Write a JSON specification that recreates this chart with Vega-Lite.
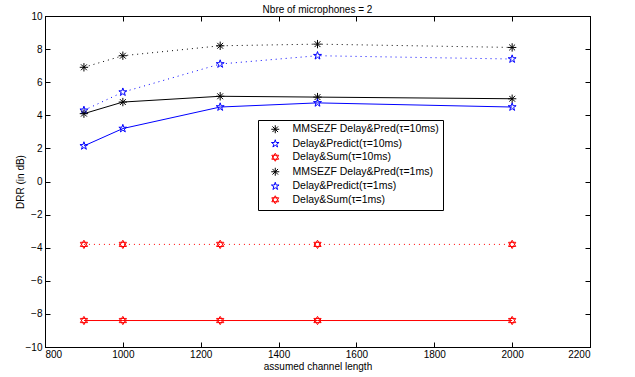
{
  "$schema": "https://vega.github.io/schema/vega-lite/v6.json",
  "autosize": {"type": "none"},
  "width": 545,
  "height": 331,
  "padding": {"left": 45, "top": 16, "right": 45, "bottom": 30},
  "title": {"text": "Nbre of microphones = 2", "fontSize": 10, "fontWeight": "normal", "font": "Liberation Sans", "offset": -4, "anchor": "middle"},
  "config": {
    "font": "Liberation Sans",
    "view": {"stroke": "#000", "strokeWidth": 1},
    "axis": {"grid": false, "domainColor": "#000", "tickColor": "#000", "labelColor": "#000", "titleColor": "#000", "labelFontSize": 10, "titleFontSize": 10, "titleFontWeight": "normal", "labelFont": "Liberation Sans", "titleFont": "Liberation Sans"},
    "legend": {"labelFont": "Liberation Sans", "labelFontSize": 10.5, "labelColor": "#000"}
  },
  "data": {"values": [
    {"series": "MMSEZF Delay&Pred(τ=10ms)", "L": 900, "DRR": 6.9},
    {"series": "MMSEZF Delay&Pred(τ=10ms)", "L": 1000, "DRR": 7.6},
    {"series": "MMSEZF Delay&Pred(τ=10ms)", "L": 1250, "DRR": 8.2},
    {"series": "MMSEZF Delay&Pred(τ=10ms)", "L": 1500, "DRR": 8.3},
    {"series": "MMSEZF Delay&Pred(τ=10ms)", "L": 2000, "DRR": 8.1},
    {"series": "Delay&Predict(τ=10ms)", "L": 900, "DRR": 4.3},
    {"series": "Delay&Predict(τ=10ms)", "L": 1000, "DRR": 5.4},
    {"series": "Delay&Predict(τ=10ms)", "L": 1250, "DRR": 7.1},
    {"series": "Delay&Predict(τ=10ms)", "L": 1500, "DRR": 7.6},
    {"series": "Delay&Predict(τ=10ms)", "L": 2000, "DRR": 7.4},
    {"series": "Delay&Sum(τ=10ms)", "L": 900, "DRR": -3.8},
    {"series": "Delay&Sum(τ=10ms)", "L": 1000, "DRR": -3.8},
    {"series": "Delay&Sum(τ=10ms)", "L": 1250, "DRR": -3.8},
    {"series": "Delay&Sum(τ=10ms)", "L": 1500, "DRR": -3.8},
    {"series": "Delay&Sum(τ=10ms)", "L": 2000, "DRR": -3.8},
    {"series": "MMSEZF Delay&Pred(τ=1ms)", "L": 900, "DRR": 4.1},
    {"series": "MMSEZF Delay&Pred(τ=1ms)", "L": 1000, "DRR": 4.8},
    {"series": "MMSEZF Delay&Pred(τ=1ms)", "L": 1250, "DRR": 5.15},
    {"series": "MMSEZF Delay&Pred(τ=1ms)", "L": 1500, "DRR": 5.1},
    {"series": "MMSEZF Delay&Pred(τ=1ms)", "L": 2000, "DRR": 5.0},
    {"series": "Delay&Predict(τ=1ms)", "L": 900, "DRR": 2.15},
    {"series": "Delay&Predict(τ=1ms)", "L": 1000, "DRR": 3.2},
    {"series": "Delay&Predict(τ=1ms)", "L": 1250, "DRR": 4.5},
    {"series": "Delay&Predict(τ=1ms)", "L": 1500, "DRR": 4.75},
    {"series": "Delay&Predict(τ=1ms)", "L": 2000, "DRR": 4.5},
    {"series": "Delay&Sum(τ=1ms)", "L": 900, "DRR": -8.4},
    {"series": "Delay&Sum(τ=1ms)", "L": 1000, "DRR": -8.4},
    {"series": "Delay&Sum(τ=1ms)", "L": 1250, "DRR": -8.4},
    {"series": "Delay&Sum(τ=1ms)", "L": 1500, "DRR": -8.4},
    {"series": "Delay&Sum(τ=1ms)", "L": 2000, "DRR": -8.4}
  ]},
  "resolve": {"axis": {"x": "independent", "y": "independent"}},
  "layer": [
    {
      "transform": [{"filter": "indexof(datum.series, '10ms') >= 0"}],
      "mark": {"type": "line", "strokeWidth": 1, "strokeDash": [1, 4], "clip": true},
      "encoding": {
        "x": {"field": "L", "type": "quantitative", "scale": {"domain": [800, 2200], "nice": false, "zero": false},
              "axis": {"title": "assumed channel length", "format": "d", "values": [800, 1000, 1200, 1400, 1600, 1800, 2000, 2200], "tickSize": -5, "labelPadding": 7, "titlePadding": 2, "domain": true}},
        "y": {"field": "DRR", "type": "quantitative", "scale": {"domain": [-10, 10], "nice": false, "zero": false},
              "axis": {"title": "DRR (in dB)", "values": [-10, -8, -6, -4, -2, 0, 2, 4, 6, 8, 10], "tickSize": -5, "labelPadding": 8, "titlePadding": 0}},
        "color": {
          "field": "series", "type": "nominal",
          "scale": {"domain": ["MMSEZF Delay&Pred(τ=10ms)", "Delay&Predict(τ=10ms)", "Delay&Sum(τ=10ms)", "MMSEZF Delay&Pred(τ=1ms)", "Delay&Predict(τ=1ms)", "Delay&Sum(τ=1ms)"],
                    "range": ["#000000", "#0000ff", "#ff0000", "#000000", "#0000ff", "#ff0000"]},
          "legend": {
            "title": null, "orient": "none", "legendX": 213, "legendY": 104, "strokeColor": "#000", "fillColor": "#fff",
            "padding": 4, "rowPadding": 1.5, "symbolSize": 64, "symbolStrokeWidth": 1, "symbolOffset": 8, "labelOffset": 12,
            "encode": {
              "symbols": {
                "update": {
                  "strokeDash": {"value": []},
                  "shape": {"value": {"expr": "datum.value == 'MMSEZF Delay&Pred(τ=10ms)' ? 'M-2.8,0L-2.5,0M-1.9,0L-1.6,0M1.6,0L1.9,0M2.5,0L2.8,0M0,-1L0,1M-1,0L1,0M-0.7,-0.7L0.7,0.7M-0.7,0.7L0.7,-0.7' : datum.value == 'MMSEZF Delay&Pred(τ=1ms)' ? 'M-2.8,0L2.8,0M0,-1L0,1M-0.7,-0.7L0.7,0.7M-0.7,0.7L0.7,-0.7' : indexof(datum.value, 'Predict') >= 0 && indexof(datum.value, '10ms') >= 0 ? 'M-2.8,0L-2.5,0M-1.9,0L-1.6,0M1.6,0L1.9,0M2.5,0L2.8,0M0,-1L0.225,-0.309L0.951,-0.309L0.363,0.118L0.588,0.809L0,0.382L-0.588,0.809L-0.363,0.118L-0.951,-0.309L-0.225,-0.309Z' : indexof(datum.value, 'Predict') >= 0 ? 'M-2.8,0L-0.3,0M0.3,0L2.8,0M0,-1L0.225,-0.309L0.951,-0.309L0.363,0.118L0.588,0.809L0,0.382L-0.588,0.809L-0.363,0.118L-0.951,-0.309L-0.225,-0.309Z' : indexof(datum.value, '10ms') >= 0 ? 'M-2.8,0L-2.5,0M-1.9,0L-1.6,0M1.6,0L1.9,0M2.5,0L2.8,0M0,-1L0.866,0.5L-0.866,0.5ZM0,1L0.866,-0.5L-0.866,-0.5Z' : 'M-2.8,0L-0.866,0M0.866,0L2.8,0M0,-1L0.866,0.5L-0.866,0.5ZM0,1L0.866,-0.5L-0.866,-0.5Z'"}}
                }
              }
            }
          }
        }
      }
    },
    {
      "transform": [{"filter": "indexof(datum.series, '10ms') < 0"}],
      "mark": {"type": "line", "strokeWidth": 1, "clip": true},
      "encoding": {
        "x": {"field": "L", "type": "quantitative", "axis": null},
        "y": {"field": "DRR", "type": "quantitative", "axis": null},
        "color": {"field": "series", "type": "nominal"}
      }
    },
    {
      "mark": {"type": "point", "filled": false, "strokeWidth": 1, "size": 70, "opacity": 1},
      "encoding": {
        "x": {"field": "L", "type": "quantitative", "axis": null},
        "y": {"field": "DRR", "type": "quantitative", "axis": null},
        "color": {"field": "series", "type": "nominal"},
        "shape": {
          "field": "series", "type": "nominal",
          "scale": {"domain": ["MMSEZF Delay&Pred(τ=10ms)", "Delay&Predict(τ=10ms)", "Delay&Sum(τ=10ms)", "MMSEZF Delay&Pred(τ=1ms)", "Delay&Predict(τ=1ms)", "Delay&Sum(τ=1ms)"],
                    "range": ["M0,-1L0,1M-0.7,-0.7L0.7,0.7M-0.7,0.7L0.7,-0.7M-1,0L1,0",
                              "M0,-1L0.225,-0.309L0.951,-0.309L0.363,0.118L0.588,0.809L0,0.382L-0.588,0.809L-0.363,0.118L-0.951,-0.309L-0.225,-0.309Z",
                              "M0,-1L0.866,0.5L-0.866,0.5ZM0,1L0.866,-0.5L-0.866,-0.5Z",
                              "M0,-1L0,1M-0.7,-0.7L0.7,0.7M-0.7,0.7L0.7,-0.7M-1,0L1,0",
                              "M0,-1L0.225,-0.309L0.951,-0.309L0.363,0.118L0.588,0.809L0,0.382L-0.588,0.809L-0.363,0.118L-0.951,-0.309L-0.225,-0.309Z",
                              "M0,-1L0.866,0.5L-0.866,0.5ZM0,1L0.866,-0.5L-0.866,-0.5Z"]},
          "legend": {
            "title": null,
            "encode": {
              "symbols": {
                "update": {
                  "strokeDash": {"value": []},
                  "shape": {"value": {"expr": "datum.value == 'MMSEZF Delay&Pred(τ=10ms)' ? 'M-2.8,0L-2.5,0M-1.9,0L-1.6,0M1.6,0L1.9,0M2.5,0L2.8,0M0,-1L0,1M-1,0L1,0M-0.7,-0.7L0.7,0.7M-0.7,0.7L0.7,-0.7' : datum.value == 'MMSEZF Delay&Pred(τ=1ms)' ? 'M-2.8,0L2.8,0M0,-1L0,1M-0.7,-0.7L0.7,0.7M-0.7,0.7L0.7,-0.7' : indexof(datum.value, 'Predict') >= 0 && indexof(datum.value, '10ms') >= 0 ? 'M-2.8,0L-2.5,0M-1.9,0L-1.6,0M1.6,0L1.9,0M2.5,0L2.8,0M0,-1L0.225,-0.309L0.951,-0.309L0.363,0.118L0.588,0.809L0,0.382L-0.588,0.809L-0.363,0.118L-0.951,-0.309L-0.225,-0.309Z' : indexof(datum.value, 'Predict') >= 0 ? 'M-2.8,0L-0.3,0M0.3,0L2.8,0M0,-1L0.225,-0.309L0.951,-0.309L0.363,0.118L0.588,0.809L0,0.382L-0.588,0.809L-0.363,0.118L-0.951,-0.309L-0.225,-0.309Z' : indexof(datum.value, '10ms') >= 0 ? 'M-2.8,0L-2.5,0M-1.9,0L-1.6,0M1.6,0L1.9,0M2.5,0L2.8,0M0,-1L0.866,0.5L-0.866,0.5ZM0,1L0.866,-0.5L-0.866,-0.5Z' : 'M-2.8,0L-0.866,0M0.866,0L2.8,0M0,-1L0.866,0.5L-0.866,0.5ZM0,1L0.866,-0.5L-0.866,-0.5Z'"}}
                }
              }
            }
          }
        }
      }
    },
    {
      "mark": {"type": "point", "opacity": 0},
      "encoding": {
        "x": {"field": "L", "type": "quantitative", "axis": {"orient": "top", "labels": false, "title": null, "values": [800, 1000, 1200, 1400, 1600, 1800, 2000, 2200], "tickSize": -5}},
        "y": {"field": "DRR", "type": "quantitative", "axis": {"orient": "right", "labels": false, "title": null, "values": [-10, -8, -6, -4, -2, 0, 2, 4, 6, 8, 10], "tickSize": -5}}
      }
    }
  ]
}
